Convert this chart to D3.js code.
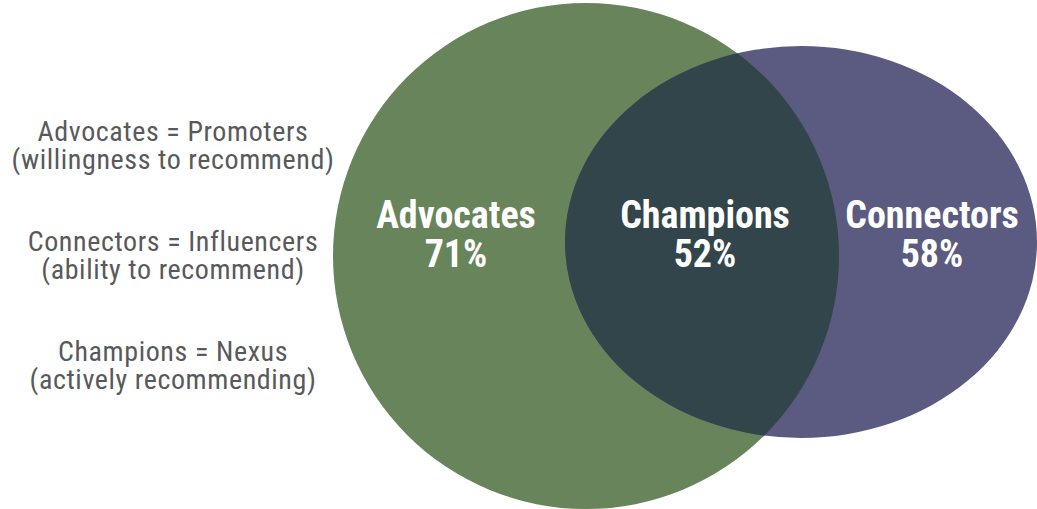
<!DOCTYPE html>
<html>
<head>
<meta charset="utf-8">
<script src="https://cdn.jsdelivr.net/npm/d3@7"></script>
<style>
  body { margin: 0; background: #fff; }
  svg { display: block; }
  text { font-family: "Liberation Sans Narrow", "Roboto Condensed", "Liberation Sans", sans-serif; }
</style>
</head>
<body>
<div id="venn"></div>
<script>
var width = 1037, height = 509

// sets and their shares
var setNames = ["Advocates", "Connectors"]
var setValues = [71, 58]
var overlapName = "Champions"
var overlapValue = 52
var setColors = ["#67845b", "#5b5a80"]
var overlapColor = "#32454a"

// legend lines
var legendLines = [
    ["Advocates = Promoters", "(willingness to recommend)"],
    ["Connectors = Influencers", "(ability to recommend)"],
    ["Champions = Nexus", "(actively recommending)"]
]

var svg = d3.select("#venn")
    .append("svg")
    .attr("width", width)
    .attr("height", height)

// shape geometry (pixels)
var shapes = [
    {cx: 586, cy: 256, rx: 253, ry: 253},
    {cx: 801, cy: 242, rx: 236, ry: 196}
]

var defs = svg.append("defs")
defs.append("clipPath")
    .attr("id", "clipA")
    .append("ellipse")
    .attr("cx", shapes[0].cx).attr("cy", shapes[0].cy)
    .attr("rx", shapes[0].rx).attr("ry", shapes[0].ry)

svg.selectAll("ellipse.set")
    .data(shapes)
    .enter().append("ellipse")
    .attr("class", "set")
    .attr("cx", function(d) { return d.cx })
    .attr("cy", function(d) { return d.cy })
    .attr("rx", function(d) { return d.rx })
    .attr("ry", function(d) { return d.ry })
    .attr("fill", function(d, i) { return setColors[i] })

// overlap
svg.append("ellipse")
    .attr("cx", shapes[1].cx).attr("cy", shapes[1].cy)
    .attr("rx", shapes[1].rx).attr("ry", shapes[1].ry)
    .attr("fill", overlapColor)
    .attr("clip-path", "url(#clipA)")

// labels inside the shapes
var labels = [
    {name: setNames[0], value: setValues[0], x: 456},
    {name: overlapName, value: overlapValue, x: 705},
    {name: setNames[1], value: setValues[1], x: 932}
]
var lab = svg.selectAll("g.lab")
    .data(labels)
    .enter().append("g")
    .attr("class", "lab")
lab.append("text")
    .attr("x", function(d) { return d.x })
    .attr("y", 228)
    .attr("text-anchor", "middle")
    .attr("fill", "#fff")
    .attr("font-weight", "bold")
    .attr("font-size", 38)
    .text(function(d) { return d.name })
lab.append("text")
    .attr("x", function(d) { return d.x })
    .attr("y", 267)
    .attr("text-anchor", "middle")
    .attr("fill", "#fff")
    .attr("font-weight", "bold")
    .attr("font-size", 38)
    .text(function(d) { return d.value + "%" })

// legend on the left
var leg = svg.selectAll("g.legend")
    .data(legendLines)
    .enter().append("g")
    .attr("class", "legend")
    .attr("transform", function(d, i) { return "translate(173," + (141 + i * 110) + ")" })
leg.selectAll("text")
    .data(function(d) { return d })
    .enter().append("text")
    .attr("y", function(d, i) { return i * 28 })
    .attr("text-anchor", "middle")
    .attr("fill", "#58595b")
    .attr("font-size", 28)
    .attr("letter-spacing", 0.6)
    .text(function(d) { return d })
</script>
</body>
</html>
